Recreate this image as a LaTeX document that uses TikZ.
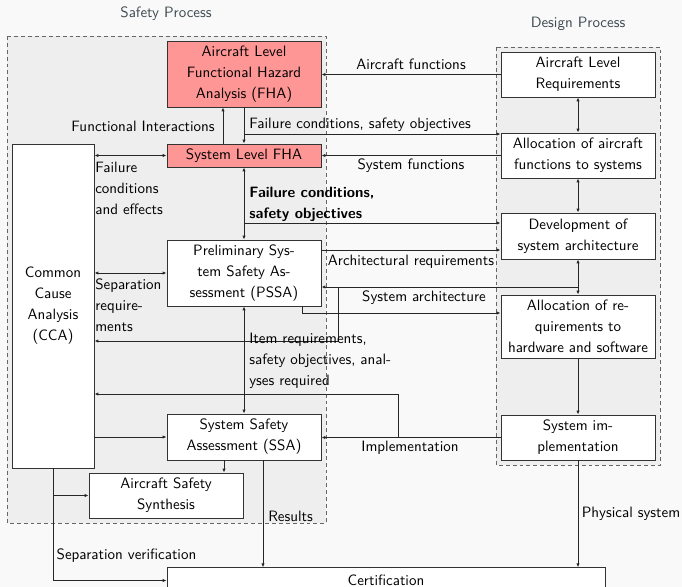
\documentclass[tikz,border=0pt]{standalone}
\usepackage{fontspec}
\usetikzlibrary{arrows.meta}
\definecolor{fhared}{RGB}{255,150,150}
\definecolor{titlegray}{RGB}{62,74,80}
\definecolor{pagebg}{RGB}{249,249,249}
\definecolor{groupbg}{RGB}{238,238,238}

\begin{document}
\begin{tikzpicture}[x=0.6667pt, y=-0.6667pt,
  font=\sffamily\fontsize{10}{14}\selectfont,
  >={Latex[length=2.6pt,width=2.2pt]},
  box/.style={draw=black!80, line width=0.6pt, fill=white, align=center,
    inner sep=1pt, minimum width=102.7pt},
  hazard/.style={box, fill=fhared},
  group/.style={draw=black!60, line width=0.5pt, dash pattern=on 2.6pt off 2pt, fill=groupbg},
  link/.style={line width=0.55pt, draw=black!85},
  lbl/.style={inner sep=0pt, align=left},
  boldlbl/.style={lbl, font=\sffamily\bfseries\fontsize{10}{14}\selectfont},
  title/.style={inner sep=0pt, text=titlegray}
]
% page and frame
\fill[pagebg] (0,0) rectangle (682,587);
\useasboundingbox (0,0) rectangle (682,587);

% the two process groups
\draw[group] (7,36) rectangle (326,523);
\draw[group] (496,47) rectangle (660,465);
\node[title] (tsafety) at (166,14) {Safety Process};
\node[title] (tdesign) at (578,24) {Design Process};

% safety process
\node[hazard, minimum height=44pt] (fha) at (244,74) {Aircraft Level\\Functional Hazard\\Analysis (FHA)};
\node[hazard, minimum height=15.3pt] (sysfha) at (244,155.5) {System Level FHA};
\node[box, minimum width=54.7pt, minimum height=216pt] (cca) at (53,306) {Common\\Cause\\Analysis\\(CCA)};
\node[box, minimum height=44pt] (pssa) at (244,273) {Preliminary Sys-\\tem Safety As-\\sessment (PSSA)};
\node[box, minimum height=30.7pt] (ssa) at (244,437) {System Safety\\Assessment (SSA)};
\node[box, minimum height=30pt] (ass) at (166,495.5) {Aircraft Safety\\Synthesis};
\node[box, minimum width=292pt, minimum height=17pt] (cert) at (386,580.5) {Certification};

% design process
\node[box, minimum height=30pt] (alr) at (578,74.5) {Aircraft Level\\Requirements};
\node[box, minimum height=30pt] (allocaf) at (578,155.5) {Allocation of aircraft\\functions to systems};
\node[box, minimum height=30.7pt] (dev) at (578,236) {Development of\\system architecture};
\node[box, minimum height=42pt] (allochw) at (578,326.5) {Allocation of re-\\quirements to\\hardware and software};
\node[box, minimum height=30pt] (sysimpl) at (578,437.5) {System im-\\plementation};

% branch points
\coordinate (fcso) at (244,134);
\coordinate (fcsob) at (244,223);
\coordinate (sa) at (578,287);
\coordinate (sab) at (338,287);
\coordinate (ir) at (cca.east |- 0,341);
\coordinate (impl) at (398,437.5);
\coordinate (an) at (cca.east |- 0,394);

% connectors
\draw[link,->] (alr.west) -- (alr.west -| fha.east);
\draw[link,->] (fha.south) -- (sysfha.north);
\draw[link,->] (fcso) -- (fcso -| allocaf.west);
\draw[link,->] (sysfha.north -| 223,0) -- (fha.south -| 223,0);
\draw[link,->] (allocaf.west) -- (allocaf.west -| sysfha.east);
\draw[link,<->] (alr.south) -- (allocaf.north);
\draw[link,<->] (allocaf.south) -- (dev.north);
\draw[link,<->] (cca.east |- sysfha.west) -- (sysfha.west);
\draw[link,<->] (sysfha.south) -- (pssa.north);
\draw[link,->] (fcsob) -- (fcsob -| dev.west);
\draw[link,->] (pssa.east |- 0,250) -- (dev.west |- 0,250);
\draw[link,<->] (dev.south) -- (allochw.north);
\draw[link,->] (sa) -- (sa -| pssa.east);
\draw[link,->] (sab) |- (ir);
\draw[link,->] (pssa.south -| 302,0) |- (allochw.west |- 0,313);
\draw[link,<->] (cca.east |- pssa.west) -- (pssa.west);
\draw[link,<->] (pssa.south) -- (ssa.north);
\draw[link,->] (sysimpl.west) -- (sysimpl.west -| ssa.east);
\draw[link,->] (impl) |- (an);
\draw[link,->] (cca.east |- ssa.west) -- (ssa.west);
\draw[link,->] (ssa.south -| 224,0) -- (ass.north -| 224,0);
\draw[link,->] (cca.south) |- (ass.west);
\draw[link,->] (cca.south) |- (cert.west);
\draw[link,->] (ssa.south -| 263,0) -- (cert.north -| 263,0);
\draw[link,->] (allochw.south) -- (sysimpl.north);
\draw[link,->] (sysimpl.south) -- (cert.north -| sysimpl.south);

% connector labels
\node[lbl] (laf) at (411,64) {Aircraft functions};
\node[lbl, anchor=east] (lfi) at (215,126) {Functional Interactions};
\node[lbl, anchor=west] (lfc) at (249,125) {Failure conditions, safety objectives};
\node[lbl] (lsf) at (411,166) {System functions};
\node[lbl, anchor=north west] (lfce) at (95,161.5) {Failure\\conditions\\and effects};
\node[boldlbl, anchor=north west] (lfcb) at (249,186.5) {Failure conditions,\\safety objectives};
\node[lbl] (lar) at (411,262) {Architectural requirements};
\node[lbl] (lsa) at (424,298) {System architecture};
\node[lbl, anchor=north west] (lsr) at (95,278.6) {Separation\\require-\\ments};
\node[lbl, anchor=north west] (lir) at (249,332.6) {Item requirements,\\safety objectives, anal-\\yses required};
\node[lbl] (lim) at (410,448) {Implementation};
\node[lbl, anchor=west] (lres) at (268,516) {Results};
\node[lbl] (lps) at (631,514) {Physical system};
\node[lbl] (lsv) at (126.5,556) {Separation verification};
\end{tikzpicture}
\end{document}
